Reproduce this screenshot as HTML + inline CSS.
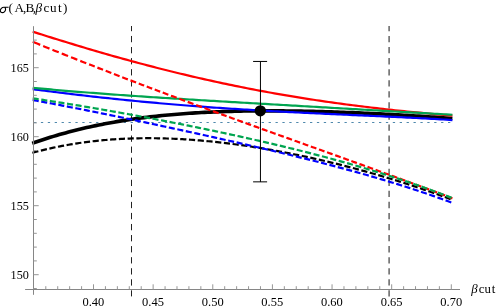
<!DOCTYPE html>
<html><head><meta charset="utf-8"><style>html,body{margin:0;padding:0;background:#fff}</style></head><body>
<svg width="498" height="308" viewBox="0 0 498 308" style="display:block;will-change:transform">
<rect width="498" height="308" fill="#fff"/>
<line x1="34" y1="122.5" x2="452" y2="122.5" stroke="#4f88ac" stroke-width="1" stroke-dasharray="2.3 4.6"/>
<line x1="131.5" y1="26" x2="131.5" y2="296.4" stroke="#222" stroke-width="1" stroke-dasharray="6.3 4.76" stroke-dashoffset="1.1"/>
<line x1="389.1" y1="26" x2="389.1" y2="296.4" stroke="#585858" stroke-width="1.4" stroke-dasharray="6.3 4.76" stroke-dashoffset="1.1"/>
<path d="M32.2,143.34 L35.2,142.27 L38.2,141.23 L41.3,140.21 L44.3,139.22 L47.3,138.24 L50.3,137.30 L53.4,136.37 L56.4,135.47 L59.4,134.59 L62.4,133.73 L65.5,132.89 L68.5,132.07 L71.5,131.28 L74.5,130.50 L77.5,129.75 L80.6,129.01 L83.6,128.30 L86.6,127.60 L89.6,126.92 L92.7,126.26 L95.7,125.62 L98.7,125.00 L101.7,124.40 L104.8,123.81 L107.8,123.24 L110.8,122.69 L113.8,122.15 L116.8,121.63 L119.9,121.12 L122.9,120.63 L125.9,120.16 L128.9,119.70 L132.0,119.26 L135.0,118.83 L138.0,118.41 L141.0,118.01 L144.1,117.62 L147.1,117.25 L150.1,116.89 L153.1,116.54 L156.1,116.21 L159.2,115.89 L162.2,115.58 L165.2,115.28 L168.2,114.99 L171.3,114.72 L174.3,114.45 L177.3,114.20 L180.3,113.96 L183.4,113.73 L186.4,113.51 L189.4,113.30 L192.4,113.10 L195.4,112.91 L198.5,112.74 L201.5,112.56 L204.5,112.40 L207.5,112.25 L210.6,112.11 L213.6,111.98 L216.6,111.85 L219.6,111.73 L222.7,111.62 L225.7,111.52 L228.7,111.43 L231.7,111.34 L234.7,111.27 L237.8,111.19 L240.8,111.13 L243.8,111.07 L246.8,111.02 L249.9,110.98 L252.9,110.95 L255.9,110.92 L258.9,110.89 L261.9,110.87 L265.0,110.86 L268.0,110.86 L271.0,110.86 L274.0,110.86 L277.1,110.88 L280.1,110.89 L283.1,110.91 L286.1,110.94 L289.2,110.97 L292.2,111.01 L295.2,111.05 L298.2,111.10 L301.2,111.15 L304.3,111.21 L307.3,111.27 L310.3,111.34 L313.3,111.40 L316.4,111.48 L319.4,111.56 L322.4,111.64 L325.4,111.72 L328.5,111.81 L331.5,111.91 L334.5,112.01 L337.5,112.11 L340.5,112.21 L343.6,112.32 L346.6,112.44 L349.6,112.55 L352.6,112.67 L355.7,112.79 L358.7,112.92 L361.7,113.05 L364.7,113.18 L367.8,113.32 L370.8,113.46 L373.8,113.61 L376.8,113.75 L379.8,113.90 L382.9,114.06 L385.9,114.21 L388.9,114.37 L391.9,114.54 L395.0,114.70 L398.0,114.87 L401.0,115.05 L404.0,115.22 L407.1,115.40 L410.1,115.58 L413.1,115.77 L416.1,115.96 L419.1,116.15 L422.2,116.35 L425.2,116.55 L428.2,116.75 L431.2,116.96 L434.3,117.17 L437.3,117.38 L440.3,117.60 L443.3,117.82 L446.4,118.05 L449.4,118.28 L452.4,118.51" fill="none" stroke="#000000" stroke-width="3.6"/>
<path d="M32.7,89.19 L35.7,89.59 L38.7,89.98 L41.8,90.37 L44.8,90.76 L47.8,91.14 L50.8,91.52 L53.8,91.90 L56.9,92.28 L59.9,92.65 L62.9,93.02 L65.9,93.39 L68.9,93.75 L72.0,94.11 L75.0,94.47 L78.0,94.83 L81.0,95.18 L84.0,95.53 L87.0,95.87 L90.1,96.22 L93.1,96.56 L96.1,96.89 L99.1,97.23 L102.1,97.56 L105.2,97.89 L108.2,98.21 L111.2,98.53 L114.2,98.85 L117.2,99.16 L120.3,99.47 L123.3,99.78 L126.3,100.09 L129.3,100.39 L132.3,100.69 L135.4,100.98 L138.4,101.27 L141.4,101.56 L144.4,101.85 L147.4,102.13 L150.5,102.41 L153.5,102.68 L156.5,102.96 L159.5,103.23 L162.5,103.49 L165.6,103.75 L168.6,104.01 L171.6,104.27 L174.6,104.52 L177.6,104.77 L180.7,105.02 L183.7,105.26 L186.7,105.50 L189.7,105.74 L192.7,105.97 L195.7,106.21 L198.8,106.43 L201.8,106.66 L204.8,106.88 L207.8,107.10 L210.8,107.32 L213.9,107.53 L216.9,107.74 L219.9,107.95 L222.9,108.15 L225.9,108.36 L229.0,108.56 L232.0,108.75 L235.0,108.95 L238.0,109.14 L241.0,109.33 L244.1,109.51 L247.1,109.70 L250.1,109.88 L253.1,110.06 L256.1,110.24 L259.2,110.41 L262.2,110.58 L265.2,110.76 L268.2,110.92 L271.2,111.09 L274.3,111.25 L277.3,111.42 L280.3,111.58 L283.3,111.74 L286.3,111.89 L289.4,112.05 L292.4,112.20 L295.4,112.35 L298.4,112.50 L301.4,112.65 L304.4,112.80 L307.5,112.95 L310.5,113.09 L313.5,113.23 L316.5,113.38 L319.5,113.52 L322.6,113.66 L325.6,113.80 L328.6,113.94 L331.6,114.07 L334.6,114.21 L337.7,114.35 L340.7,114.48 L343.7,114.62 L346.7,114.76 L349.7,114.89 L352.8,115.03 L355.8,115.16 L358.8,115.30 L361.8,115.43 L364.8,115.57 L367.9,115.70 L370.9,115.84 L373.9,115.98 L376.9,116.11 L379.9,116.25 L383.0,116.39 L386.0,116.53 L389.0,116.67 L392.0,116.81 L395.0,116.95 L398.1,117.10 L401.1,117.24 L404.1,117.39 L407.1,117.54 L410.1,117.69 L413.1,117.84 L416.2,118.00 L419.2,118.15 L422.2,118.31 L425.2,118.47 L428.2,118.64 L431.3,118.80 L434.3,118.97 L437.3,119.14 L440.3,119.31 L443.3,119.49 L446.4,119.67 L449.4,119.86 L452.4,120.04" fill="none" stroke="#0000ff" stroke-width="2.2"/>
<path d="M32.7,31.65 L35.7,32.61 L38.7,33.58 L41.8,34.54 L44.8,35.49 L47.8,36.44 L50.8,37.39 L53.8,38.33 L56.9,39.27 L59.9,40.21 L62.9,41.14 L65.9,42.07 L68.9,43.00 L72.0,43.92 L75.0,44.83 L78.0,45.74 L81.0,46.65 L84.0,47.55 L87.0,48.45 L90.1,49.34 L93.1,50.23 L96.1,51.12 L99.1,52.00 L102.1,52.87 L105.2,53.74 L108.2,54.60 L111.2,55.46 L114.2,56.32 L117.2,57.17 L120.3,58.01 L123.3,58.85 L126.3,59.68 L129.3,60.51 L132.3,61.33 L135.4,62.15 L138.4,62.96 L141.4,63.76 L144.4,64.56 L147.4,65.36 L150.5,66.15 L153.5,66.93 L156.5,67.71 L159.5,68.48 L162.5,69.25 L165.6,70.01 L168.6,70.76 L171.6,71.51 L174.6,72.25 L177.6,72.99 L180.7,73.72 L183.7,74.44 L186.7,75.16 L189.7,75.87 L192.7,76.58 L195.7,77.28 L198.8,77.97 L201.8,78.66 L204.8,79.34 L207.8,80.02 L210.8,80.69 L213.9,81.35 L216.9,82.01 L219.9,82.66 L222.9,83.30 L225.9,83.94 L229.0,84.57 L232.0,85.20 L235.0,85.82 L238.0,86.43 L241.0,87.04 L244.1,87.64 L247.1,88.23 L250.1,88.82 L253.1,89.40 L256.1,89.98 L259.2,90.55 L262.2,91.11 L265.2,91.67 L268.2,92.22 L271.2,92.77 L274.3,93.31 L277.3,93.84 L280.3,94.37 L283.3,94.89 L286.3,95.40 L289.4,95.91 L292.4,96.42 L295.4,96.91 L298.4,97.40 L301.4,97.89 L304.4,98.37 L307.5,98.84 L310.5,99.31 L313.5,99.77 L316.5,100.23 L319.5,100.68 L322.6,101.12 L325.6,101.56 L328.6,102.00 L331.6,102.42 L334.6,102.85 L337.7,103.26 L340.7,103.67 L343.7,104.08 L346.7,104.48 L349.7,104.88 L352.8,105.27 L355.8,105.65 L358.8,106.03 L361.8,106.41 L364.8,106.78 L367.9,107.15 L370.9,107.51 L373.9,107.86 L376.9,108.21 L379.9,108.56 L383.0,108.90 L386.0,109.24 L389.0,109.57 L392.0,109.90 L395.0,110.22 L398.1,110.54 L401.1,110.86 L404.1,111.17 L407.1,111.48 L410.1,111.78 L413.1,112.08 L416.2,112.37 L419.2,112.67 L422.2,112.95 L425.2,113.24 L428.2,113.52 L431.3,113.80 L434.3,114.07 L437.3,114.34 L440.3,114.61 L443.3,114.88 L446.4,115.14 L449.4,115.40 L452.4,115.65" fill="none" stroke="#ff0000" stroke-width="2.2"/>
<path d="M32.7,87.78 L35.7,88.07 L38.7,88.36 L41.8,88.64 L44.8,88.92 L47.8,89.19 L50.8,89.47 L53.8,89.74 L56.9,90.00 L59.9,90.27 L62.9,90.53 L65.9,90.78 L68.9,91.04 L72.0,91.29 L75.0,91.54 L78.0,91.78 L81.0,92.03 L84.0,92.27 L87.0,92.51 L90.1,92.74 L93.1,92.97 L96.1,93.21 L99.1,93.43 L102.1,93.66 L105.2,93.88 L108.2,94.11 L111.2,94.33 L114.2,94.55 L117.2,94.76 L120.3,94.98 L123.3,95.19 L126.3,95.40 L129.3,95.61 L132.3,95.82 L135.4,96.02 L138.4,96.23 L141.4,96.43 L144.4,96.63 L147.4,96.83 L150.5,97.03 L153.5,97.23 L156.5,97.42 L159.5,97.62 L162.5,97.81 L165.6,98.00 L168.6,98.20 L171.6,98.39 L174.6,98.58 L177.6,98.77 L180.7,98.95 L183.7,99.14 L186.7,99.33 L189.7,99.51 L192.7,99.70 L195.7,99.88 L198.8,100.06 L201.8,100.24 L204.8,100.43 L207.8,100.61 L210.8,100.79 L213.9,100.97 L216.9,101.15 L219.9,101.33 L222.9,101.50 L225.9,101.68 L229.0,101.86 L232.0,102.04 L235.0,102.22 L238.0,102.39 L241.0,102.57 L244.1,102.74 L247.1,102.92 L250.1,103.10 L253.1,103.27 L256.1,103.45 L259.2,103.62 L262.2,103.80 L265.2,103.97 L268.2,104.15 L271.2,104.32 L274.3,104.50 L277.3,104.67 L280.3,104.85 L283.3,105.02 L286.3,105.19 L289.4,105.37 L292.4,105.54 L295.4,105.72 L298.4,105.89 L301.4,106.07 L304.4,106.24 L307.5,106.42 L310.5,106.59 L313.5,106.76 L316.5,106.94 L319.5,107.11 L322.6,107.29 L325.6,107.46 L328.6,107.64 L331.6,107.81 L334.6,107.99 L337.7,108.16 L340.7,108.34 L343.7,108.51 L346.7,108.69 L349.7,108.86 L352.8,109.04 L355.8,109.21 L358.8,109.39 L361.8,109.56 L364.8,109.74 L367.9,109.91 L370.9,110.09 L373.9,110.26 L376.9,110.44 L379.9,110.61 L383.0,110.79 L386.0,110.96 L389.0,111.14 L392.0,111.31 L395.0,111.49 L398.1,111.66 L401.1,111.83 L404.1,112.01 L407.1,112.18 L410.1,112.36 L413.1,112.53 L416.2,112.70 L419.2,112.87 L422.2,113.05 L425.2,113.22 L428.2,113.39 L431.3,113.56 L434.3,113.73 L437.3,113.90 L440.3,114.07 L443.3,114.24 L446.4,114.41 L449.4,114.57 L452.4,114.74" fill="none" stroke="#00a550" stroke-width="2.2"/>
<path d="M32.40,152.83 L34.39,152.29 L36.38,151.76 L38.37,151.24 M40.88,150.61 L42.88,150.11 L44.89,149.63 L46.89,149.15 M49.41,148.58 L51.43,148.13 L53.44,147.69 L55.46,147.26 M57.99,146.74 L60.01,146.34 L62.03,145.95 L64.06,145.56 M66.60,145.10 L68.63,144.74 L70.67,144.39 L72.70,144.05 M75.25,143.64 L77.29,143.33 L79.33,143.02 L81.37,142.73 M83.93,142.37 L85.97,142.10 L88.02,141.84 L90.06,141.59 M92.63,141.28 L94.68,141.05 L96.73,140.83 L98.78,140.62 M101.35,140.37 L103.41,140.18 L105.46,139.99 L107.51,139.82 M110.09,139.62 L112.15,139.47 L114.20,139.32 L116.26,139.19 M118.84,139.04 L120.90,138.92 L122.96,138.82 L125.02,138.72 M127.60,138.61 L129.66,138.53 L131.72,138.46 L133.78,138.40 M136.37,138.34 L138.43,138.30 L140.49,138.26 L142.55,138.24 M145.14,138.22 L147.20,138.21 L149.26,138.21 L151.32,138.21 M153.91,138.23 L155.97,138.26 L158.03,138.29 L160.09,138.33 M162.67,138.39 L164.73,138.45 L166.79,138.51 L168.85,138.58 M171.44,138.68 L173.50,138.76 L175.56,138.86 L177.62,138.96 M180.20,139.09 L182.26,139.21 L184.32,139.33 L186.37,139.46 M188.95,139.63 L191.01,139.77 L193.07,139.92 L195.12,140.07 M197.70,140.28 L199.75,140.45 L201.81,140.63 L203.86,140.81 M206.44,141.04 L208.49,141.24 L210.54,141.44 L212.59,141.65 M215.16,141.92 L217.21,142.14 L219.26,142.37 L221.31,142.60 M223.88,142.90 L225.92,143.14 L227.97,143.39 L230.01,143.65 M232.58,143.97 L234.62,144.24 L236.67,144.51 L238.71,144.79 M241.27,145.15 L243.31,145.44 L245.35,145.73 L247.39,146.03 M249.95,146.42 L251.99,146.73 L254.02,147.05 L256.06,147.37 M258.61,147.78 L260.65,148.11 L262.68,148.45 L264.71,148.79 M267.26,149.22 L269.29,149.58 L271.32,149.93 L273.35,150.29 M275.90,150.75 L277.93,151.13 L279.95,151.50 L281.98,151.88 M284.52,152.37 L286.54,152.76 L288.56,153.15 L290.59,153.55 M293.12,154.06 L295.14,154.47 L297.16,154.89 L299.18,155.30 M301.71,155.83 L303.73,156.26 L305.74,156.69 L307.76,157.13 M310.29,157.68 L312.30,158.13 L314.31,158.58 L316.32,159.03 M318.84,159.61 L320.85,160.07 L322.86,160.54 L324.86,161.01 M327.38,161.61 L329.39,162.09 L331.39,162.57 L333.39,163.06 M335.90,163.68 L337.90,164.17 L339.90,164.67 L341.90,165.18 M344.41,165.82 L346.40,166.33 L348.40,166.85 L350.39,167.37 M352.89,168.03 L354.88,168.56 L356.88,169.10 L358.86,169.64 M361.36,170.32 L363.35,170.86 L365.33,171.41 L367.32,171.97 M369.81,172.67 L371.79,173.23 L373.77,173.80 L375.75,174.37 M378.24,175.10 L380.21,175.68 L382.19,176.26 L384.17,176.85 M386.64,177.59 L388.62,178.19 L390.59,178.79 L392.56,179.39 M395.03,180.16 L397.00,180.77 L398.96,181.39 L400.93,182.01 M403.40,182.79 L405.36,183.42 L407.32,184.05 L409.28,184.69 M411.74,185.50 L413.69,186.14 L415.65,186.80 L417.60,187.45 M420.06,188.28 L422.01,188.94 L423.96,189.61 L425.91,190.28 M428.35,191.13 L430.29,191.81 L432.24,192.49 L434.18,193.18 M436.62,194.05 L438.56,194.75 L440.49,195.45 L442.43,196.16 M444.86,197.05 L446.79,197.76 L448.72,198.48 L450.65,199.21" fill="none" stroke="#000000" stroke-width="2.2"/>
<path d="M32.70,99.99 L34.69,100.36 L36.68,100.72 L38.68,101.09 M41.24,101.56 L43.23,101.93 L45.22,102.31 L47.21,102.68 M49.77,103.16 L51.76,103.54 L53.75,103.92 L55.74,104.30 M58.30,104.78 L60.28,105.17 L62.27,105.55 L64.26,105.93 M66.82,106.43 L68.81,106.82 L70.79,107.21 L72.78,107.60 M75.34,108.10 L77.32,108.49 L79.31,108.88 L81.30,109.28 M83.85,109.79 L85.84,110.18 L87.82,110.58 L89.81,110.98 M92.36,111.49 L94.35,111.89 L96.33,112.29 L98.32,112.69 M100.87,113.21 L102.85,113.62 L104.84,114.02 L106.82,114.43 M109.37,114.95 L111.36,115.36 L113.34,115.77 L115.32,116.17 M117.88,116.70 L119.86,117.11 L121.84,117.52 L123.82,117.93 M126.37,118.47 L128.36,118.88 L130.34,119.29 L132.32,119.71 M134.87,120.24 L136.85,120.66 L138.83,121.08 L140.82,121.49 M143.36,122.03 L145.35,122.45 L147.33,122.87 L149.31,123.29 M151.86,123.83 L153.84,124.25 L155.82,124.67 L157.80,125.10 M160.34,125.64 L162.32,126.06 L164.31,126.49 L166.29,126.91 M168.83,127.46 L170.81,127.89 L172.79,128.31 L174.77,128.74 M177.32,129.29 L179.30,129.72 L181.27,130.15 L183.25,130.58 M185.80,131.13 L187.78,131.57 L189.76,132.00 L191.73,132.43 M194.28,132.99 L196.26,133.42 L198.23,133.86 L200.21,134.29 M202.76,134.85 L204.73,135.29 L206.71,135.73 L208.69,136.16 M211.23,136.73 L213.21,137.17 L215.18,137.61 L217.16,138.05 M219.70,138.62 L221.68,139.06 L223.66,139.50 L225.63,139.95 M228.17,140.52 L230.15,140.96 L232.12,141.41 L234.10,141.86 M236.64,142.43 L238.61,142.88 L240.59,143.33 L242.56,143.78 M245.10,144.36 L247.07,144.82 L249.05,145.27 L251.02,145.73 M253.56,146.31 L255.53,146.77 L257.50,147.23 L259.48,147.69 M262.01,148.28 L263.99,148.74 L265.96,149.20 L267.93,149.67 M270.46,150.26 L272.43,150.73 L274.40,151.20 L276.37,151.67 M278.91,152.27 L280.88,152.74 L282.85,153.21 L284.82,153.69 M287.35,154.30 L289.32,154.78 L291.28,155.25 L293.25,155.73 M295.78,156.35 L297.75,156.84 L299.71,157.32 L301.68,157.81 M304.21,158.43 L306.17,158.92 L308.14,159.42 L310.10,159.91 M312.63,160.54 L314.59,161.04 L316.55,161.54 L318.52,162.04 M321.04,162.69 L323.00,163.19 L324.96,163.70 L326.92,164.20 M329.44,164.86 L331.40,165.37 L333.36,165.89 L335.32,166.40 M337.84,167.07 L339.79,167.59 L341.75,168.12 L343.70,168.64 M346.22,169.32 L348.17,169.85 L350.13,170.39 L352.08,170.92 M354.59,171.61 L356.54,172.15 L358.49,172.70 L360.44,173.24 M362.95,173.95 L364.90,174.50 L366.85,175.06 L368.79,175.61 M371.30,176.33 L373.24,176.90 L375.19,177.46 L377.13,178.03 M379.63,178.77 L381.57,179.34 L383.51,179.92 L385.45,180.50 M387.95,181.25 L389.88,181.84 L391.82,182.43 L393.76,183.03 M396.24,183.79 L398.18,184.40 L400.11,185.00 L402.04,185.61 M404.53,186.40 L406.46,187.01 L408.38,187.63 L410.31,188.25 M412.79,189.06 L414.71,189.69 L416.64,190.32 L418.56,190.96 M421.03,191.79 L422.95,192.43 L424.86,193.08 L426.78,193.74 M429.24,194.58 L431.16,195.25 L433.07,195.91 L434.98,196.58 M437.44,197.45 L439.34,198.13 L441.25,198.82 L443.16,199.50 M445.60,200.39 L447.50,201.09 L449.40,201.79 L451.30,202.50" fill="none" stroke="#0000ff" stroke-width="2.2"/>
<path d="M32.70,41.82 L35.20,42.83 L37.70,43.85 L40.20,44.87 M43.17,46.07 L45.27,46.92 L47.37,47.77 L49.47,48.61 M52.44,49.81 L54.55,50.65 L56.65,51.50 L58.75,52.34 M61.73,53.53 L63.83,54.37 L65.94,55.21 L68.04,56.05 M71.02,57.23 L73.11,58.06 L75.21,58.89 L77.31,59.72 M80.27,60.89 L82.27,61.68 L84.27,62.47 L86.27,63.26 M89.09,64.36 L90.98,65.10 L92.86,65.84 L94.75,66.58 M97.41,67.62 L99.29,68.35 L101.16,69.08 L103.04,69.81 M105.68,70.84 L107.56,71.57 L109.43,72.29 L111.31,73.02 M113.95,74.04 L115.83,74.76 L117.70,75.48 L119.58,76.21 M122.22,77.22 L124.10,77.94 L125.97,78.66 L127.85,79.38 M130.49,80.39 L132.36,81.10 L134.23,81.82 L136.10,82.53 M138.74,83.53 L140.55,84.22 L142.36,84.91 L144.17,85.59 M146.73,86.56 L148.54,87.25 L150.36,87.93 L152.17,88.62 M154.73,89.58 L156.54,90.27 L158.36,90.95 L160.17,91.63 M162.73,92.59 L164.60,93.29 L166.46,93.98 L168.32,94.68 M170.95,95.66 L172.85,96.37 L174.75,97.08 L176.65,97.79 M179.33,98.79 L181.24,99.49 L183.14,100.20 L185.04,100.90 M187.73,101.90 L189.63,102.60 L191.53,103.30 L193.43,104.01 M196.12,105.00 L198.02,105.70 L199.93,106.40 L201.83,107.10 M204.52,108.09 L206.43,108.79 L208.33,109.49 L210.23,110.18 M212.92,111.17 L214.80,111.86 L216.68,112.54 L218.56,113.23 M221.21,114.20 L223.00,114.85 L224.79,115.50 L226.58,116.15 M229.10,117.07 L230.95,117.74 L232.80,118.41 L234.65,119.08 M237.26,120.03 L239.12,120.71 L240.98,121.38 L242.84,122.06 M245.47,123.01 L247.33,123.68 L249.19,124.35 L251.05,125.02 M253.68,125.97 L255.54,126.64 L257.40,127.31 L259.25,127.98 M261.88,128.93 L263.73,129.60 L265.59,130.27 L267.44,130.93 M270.07,131.88 L271.92,132.54 L273.77,133.21 L275.63,133.88 M278.24,134.82 L280.09,135.48 L281.95,136.15 L283.80,136.81 M286.41,137.75 L288.26,138.41 L290.11,139.07 L291.96,139.74 M294.57,140.67 L296.41,141.34 L298.26,142.00 L300.11,142.66 M302.71,143.59 L304.56,144.26 L306.40,144.92 L308.24,145.58 M310.85,146.51 L312.69,147.17 L314.53,147.83 L316.37,148.49 M318.97,149.42 L320.81,150.08 L322.65,150.74 L324.49,151.40 M327.08,152.33 L328.92,152.99 L330.76,153.65 L332.59,154.31 M335.19,155.24 L337.02,155.90 L338.86,156.56 L340.69,157.22 M343.28,158.16 L345.12,158.82 L346.95,159.48 L348.78,160.14 M351.37,161.07 L353.20,161.73 L355.03,162.39 L356.87,163.05 M359.45,163.98 L361.28,164.65 L363.11,165.31 L364.94,165.97 M367.52,166.90 L369.35,167.57 L371.18,168.23 L373.00,168.89 M375.58,169.83 L377.41,170.49 L379.23,171.16 L381.06,171.82 M383.63,172.76 L385.46,173.43 L387.28,174.09 L389.10,174.76 M391.67,175.70 L393.49,176.37 L395.31,177.03 L397.13,177.70 M399.70,178.65 L401.52,179.31 L403.34,179.98 L405.16,180.65 M407.72,181.60 L409.54,182.27 L411.35,182.94 L413.17,183.62 M415.73,184.57 L417.54,185.24 L419.36,185.91 L421.17,186.59 M423.73,187.54 L425.54,188.22 L427.35,188.90 L429.16,189.58 M431.71,190.53 L433.52,191.21 L435.32,191.89 L437.13,192.57 M439.68,193.54 L441.48,194.22 L443.29,194.90 L445.09,195.59 M447.64,196.56 L449.23,197.16 L450.81,197.77 L452.40,198.37" fill="none" stroke="#ff0000" stroke-width="2.2"/>
<path d="M32.70,98.35 L34.70,98.65 L36.71,98.95 L38.71,99.25 M41.28,99.63 L43.29,99.94 L45.29,100.24 L47.29,100.55 M49.86,100.95 L51.87,101.26 L53.87,101.57 L55.87,101.88 M58.44,102.29 L60.44,102.60 L62.44,102.92 L64.44,103.24 M67.01,103.66 L69.01,103.98 L71.01,104.30 L73.01,104.63 M75.58,105.05 L77.58,105.38 L79.58,105.71 L81.57,106.04 M84.14,106.47 L86.14,106.81 L88.14,107.14 L90.13,107.48 M92.70,107.91 L94.70,108.25 L96.69,108.60 L98.69,108.94 M101.26,109.38 L103.25,109.73 L105.25,110.08 L107.24,110.42 M109.81,110.87 L111.80,111.22 L113.80,111.58 L115.79,111.93 M118.35,112.39 L120.35,112.74 L122.34,113.10 L124.33,113.46 M126.90,113.92 L128.89,114.29 L130.88,114.65 L132.87,115.01 M135.44,115.48 L137.43,115.85 L139.42,116.22 L141.41,116.59 M143.97,117.06 L145.96,117.44 L147.95,117.81 L149.94,118.18 M152.50,118.67 L154.49,119.04 L156.48,119.42 L158.47,119.80 M161.03,120.29 L163.02,120.68 L165.01,121.06 L166.99,121.44 M169.55,121.94 L171.54,122.33 L173.53,122.72 L175.51,123.11 M178.07,123.61 L180.05,124.00 L182.04,124.40 L184.03,124.79 M186.58,125.31 L188.57,125.70 L190.55,126.10 L192.54,126.50 M195.09,127.02 L197.07,127.43 L199.06,127.83 L201.04,128.24 M203.59,128.76 L205.58,129.17 L207.56,129.59 L209.54,130.00 M212.09,130.53 L214.07,130.95 L216.05,131.36 L218.04,131.78 M220.58,132.32 L222.56,132.75 L224.55,133.17 L226.53,133.59 M229.07,134.14 L231.05,134.57 L233.03,135.00 L235.01,135.43 M237.55,135.99 L239.53,136.43 L241.51,136.86 L243.49,137.30 M246.03,137.87 L248.00,138.31 L249.98,138.75 L251.96,139.20 M254.50,139.77 L256.47,140.22 L258.44,140.67 L260.42,141.12 M262.96,141.71 L264.93,142.17 L266.90,142.62 L268.87,143.08 M271.41,143.68 L273.38,144.14 L275.35,144.61 L277.32,145.08 M279.86,145.68 L281.82,146.15 L283.79,146.63 L285.76,147.11 M288.29,147.72 L290.26,148.20 L292.23,148.69 L294.19,149.17 M296.72,149.80 L298.69,150.29 L300.65,150.78 L302.61,151.27 M305.14,151.91 L307.10,152.41 L309.06,152.91 L311.03,153.42 M313.55,154.07 L315.51,154.58 L317.47,155.09 L319.43,155.60 M321.94,156.27 L323.90,156.78 L325.86,157.31 L327.82,157.83 M330.33,158.51 L332.28,159.04 L334.24,159.57 L336.19,160.10 M338.70,160.79 L340.65,161.34 L342.61,161.88 L344.56,162.42 M347.06,163.13 L349.01,163.68 L350.96,164.24 L352.91,164.79 M355.41,165.52 L357.35,166.08 L359.30,166.65 L361.24,167.22 M363.74,167.95 L365.68,168.53 L367.62,169.11 L369.56,169.69 M372.05,170.44 L373.99,171.03 L375.93,171.63 L377.86,172.22 M380.35,172.99 L382.29,173.60 L384.22,174.20 L386.15,174.81 M388.63,175.60 L390.56,176.21 L392.49,176.83 L394.42,177.46 M396.89,178.26 L398.82,178.90 L400.74,179.53 L402.66,180.17 M405.13,180.99 L407.05,181.64 L408.97,182.29 L410.89,182.94 M413.35,183.79 L415.26,184.45 L417.18,185.11 L419.09,185.78 M421.54,186.65 L423.45,187.32 L425.36,188.00 L427.27,188.69 M429.72,189.58 L431.62,190.27 L433.52,190.97 L435.42,191.67 M437.86,192.58 L439.76,193.29 L441.65,194.00 L443.55,194.72 M445.98,195.65 L447.87,196.38 L449.76,197.11 L451.64,197.84" fill="none" stroke="#00a550" stroke-width="2.2"/>
<g stroke="#000" stroke-width="1" fill="none"><line x1="260.45" y1="61.4" x2="260.45" y2="181.9"/><line x1="253.1" y1="61.45" x2="267.1" y2="61.45"/><line x1="253.1" y1="181.85" x2="267.1" y2="181.85"/></g>
<circle cx="260.3" cy="110.85" r="5.65" fill="#000"/>
<path d="M25.1,289.5 H460 M33.5,26.2 V294.8" stroke="#868686" stroke-width="1" fill="none"/>
<path d="M45.80,289.5 v-3.3 M57.72,289.5 v-3.3 M69.65,289.5 v-3.3 M81.58,289.5 v-3.3 M93.50,289.5 v-5.2 M105.43,289.5 v-3.3 M117.36,289.5 v-3.3 M129.29,289.5 v-3.3 M141.21,289.5 v-3.3 M153.14,289.5 v-5.2 M165.07,289.5 v-3.3 M176.99,289.5 v-3.3 M188.92,289.5 v-3.3 M200.85,289.5 v-3.3 M212.78,289.5 v-5.2 M224.70,289.5 v-3.3 M236.63,289.5 v-3.3 M248.56,289.5 v-3.3 M260.48,289.5 v-3.3 M272.41,289.5 v-5.2 M284.34,289.5 v-3.3 M296.26,289.5 v-3.3 M308.19,289.5 v-3.3 M320.12,289.5 v-3.3 M332.05,289.5 v-5.2 M343.97,289.5 v-3.3 M355.90,289.5 v-3.3 M367.83,289.5 v-3.3 M379.75,289.5 v-3.3 M391.68,289.5 v-5.2 M403.61,289.5 v-3.3 M415.53,289.5 v-3.3 M427.46,289.5 v-3.3 M439.39,289.5 v-3.3 M451.31,289.5 v-5.2 M33.5,288.50 h3.3 M33.5,274.70 h5.2 M33.5,260.90 h3.3 M33.5,247.10 h3.3 M33.5,233.30 h3.3 M33.5,219.50 h3.3 M33.5,205.70 h5.2 M33.5,191.90 h3.3 M33.5,178.10 h3.3 M33.5,164.30 h3.3 M33.5,150.50 h3.3 M33.5,136.70 h5.2 M33.5,122.90 h3.3 M33.5,109.10 h3.3 M33.5,95.30 h3.3 M33.5,81.50 h3.3 M33.5,67.70 h5.2 M33.5,53.90 h3.3 M33.5,40.10 h3.3" stroke="#969696" stroke-width="1" fill="none"/>
<g font-family="Liberation Serif, serif" font-size="12.8" fill="#000">
<text font-size="12.5" transform="translate(93.4,305.6) scale(1,1.06)" text-anchor="middle">0.40</text>
<text font-size="12.5" transform="translate(153.0,305.6) scale(1,1.06)" text-anchor="middle">0.45</text>
<text font-size="12.5" transform="translate(212.7,305.6) scale(1,1.06)" text-anchor="middle">0.50</text>
<text font-size="12.5" transform="translate(272.3,305.6) scale(1,1.06)" text-anchor="middle">0.55</text>
<text font-size="12.5" transform="translate(331.9,305.6) scale(1,1.06)" text-anchor="middle">0.60</text>
<text font-size="12.5" transform="translate(391.6,305.6) scale(1,1.06)" text-anchor="middle">0.65</text>
<text font-size="12.5" transform="translate(451.2,305.6) scale(1,1.06)" text-anchor="middle">0.70</text>
<text font-size="12.2" transform="translate(28.9,279.35) scale(1,1.06)" text-anchor="end">150</text>
<text font-size="12.2" transform="translate(28.9,210.35) scale(1,1.06)" text-anchor="end">155</text>
<text font-size="12.2" transform="translate(28.9,141.35) scale(1,1.06)" text-anchor="end">160</text>
<text font-size="12.2" transform="translate(28.9,72.35) scale(1,1.06)" text-anchor="end">165</text>
<path transform="translate(0.3,0)" d="M8.3,7.3 L3.6,7.3 C1.6,7.3 0.0,9.1 0.0,10.7 C0.0,12.0 0.9,12.6 1.9,12.6 C3.8,12.6 5.3,10.9 5.3,9.2 C5.3,8.3 5.0,7.7 4.4,7.4" fill="none" stroke="#000" stroke-width="1.1"/>
<text transform="translate(8.6,12.4) scale(1.03,0.95)">(</text>
<text transform="translate(14.4,12.4) scale(1.03,0.95)">A</text>
<text transform="translate(23.0,12.4) scale(1.03,0.95)">,</text>
<text transform="translate(25.5,12.4) scale(1.03,0.95)">B</text>
<text transform="translate(32.8,12.4) scale(1.03,0.95)">,</text>
<text transform="translate(35.6,12.4) scale(1.03,0.95)" font-style="italic">β</text>
<text transform="translate(43.6,12.4) scale(1.03,0.95)">c</text>
<text transform="translate(49.9,12.4) scale(1.03,0.95)">u</text>
<text transform="translate(58.0,12.4) scale(1.03,0.95)">t</text>
<text transform="translate(62.9,12.4) scale(1.03,0.95)">)</text>
<text x="471.2" y="292.5" font-style="italic">β</text>
<text x="478.7" y="292.5">c</text>
<text x="484.6" y="292.5">u</text>
<text x="491.8" y="292.5">t</text>
</g>
</svg>
</body></html>
